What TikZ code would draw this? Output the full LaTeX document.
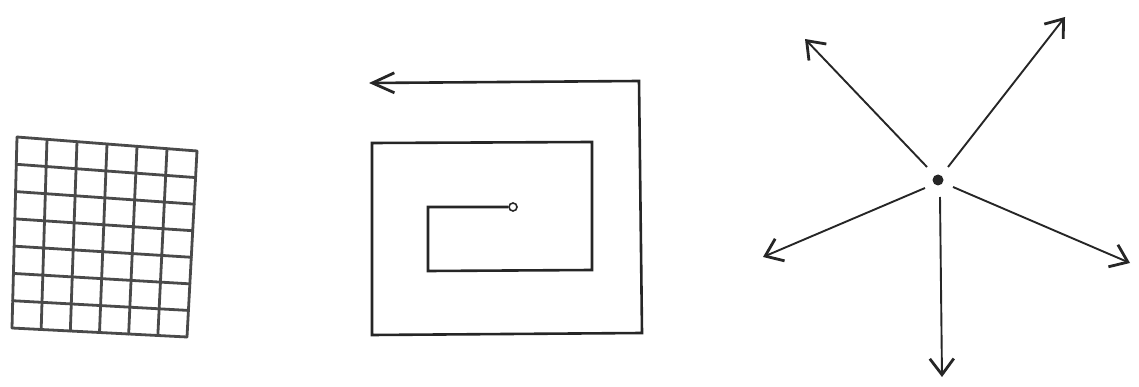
\documentclass[tikz,border=0pt]{standalone}
\usetikzlibrary{arrows.meta,calc}
\definecolor{ink}{HTML}{262626}
\definecolor{gridink}{HTML}{4A4A4A}
\tikzset{
  gridline/.style={draw=gridink, line width=2.8pt, line cap=round},
  spiral/.style={draw=ink, line width=2.6pt, line join=miter},
  ray/.style={draw=ink, line width=1.9pt, -{Straight Barb[length=16pt,width=24pt,line width=2.8pt]}},
  hub/.style={circle, fill=ink, inner sep=0pt, minimum size=11pt},
  start/.style={circle, draw=ink, fill=white, line width=1.6pt, inner sep=0pt, minimum size=8pt},
}
\begin{document}
\begin{tikzpicture}[x=1pt,y=-1pt]
\useasboundingbox (0,0) rectangle (1139,387);
% ---------- grid ----------
\coordinate (TL) at (17,137);
\coordinate (TR) at (197,151);
\coordinate (BL) at (12,328);
\coordinate (BR) at (187,337);
\foreach \i in {0,...,6}{
  \draw[gridline] ($(TL)!\i/6!(TR)$) -- ($(BL)!\i/6!(BR)$);
}
\foreach \j in {0,...,7}{
  \draw[gridline] ($(TL)!\j/7!(BL)$) -- ($(TR)!\j/7!(BR)$);
}
% ---------- spiral ----------
\node[start] (s0) at (513,207) {};
\coordinate (s1) at (428,207);
\coordinate (s2) at (428,271);
\coordinate (s3) at (592,270);
\coordinate (s4) at (592,142);
\coordinate (s5) at (372,143);
\coordinate (s6) at (372,335);
\coordinate (s7) at (642,333);
\coordinate (s8) at (639,81);
\coordinate (s9) at (369,83);
\draw[spiral, -{Straight Barb[length=22pt,width=20pt,line width=2.8pt]}]
  (s0.west) -- (s1) -- (s2) -- (s3) -- (s4) -- (s5) -- (s6) -- (s7) -- (s8) -- (s9);
% ---------- star ----------
\node[hub] (c) at (938,180) {};
\coordinate (ul) at (805,39);
\coordinate (ur) at (1065,17);
\coordinate (l) at (763,257);
\coordinate (r) at (1130,263);
\coordinate (d) at (942,377);
\draw[ray] (927,167) -- (ul);
\draw[ray] (948,167) -- (ur);
\draw[ray] (925,188) -- (l);
\draw[ray] (953,187) -- (r);
\draw[ray] (940,197) -- (d);
\end{tikzpicture}
\end{document}
